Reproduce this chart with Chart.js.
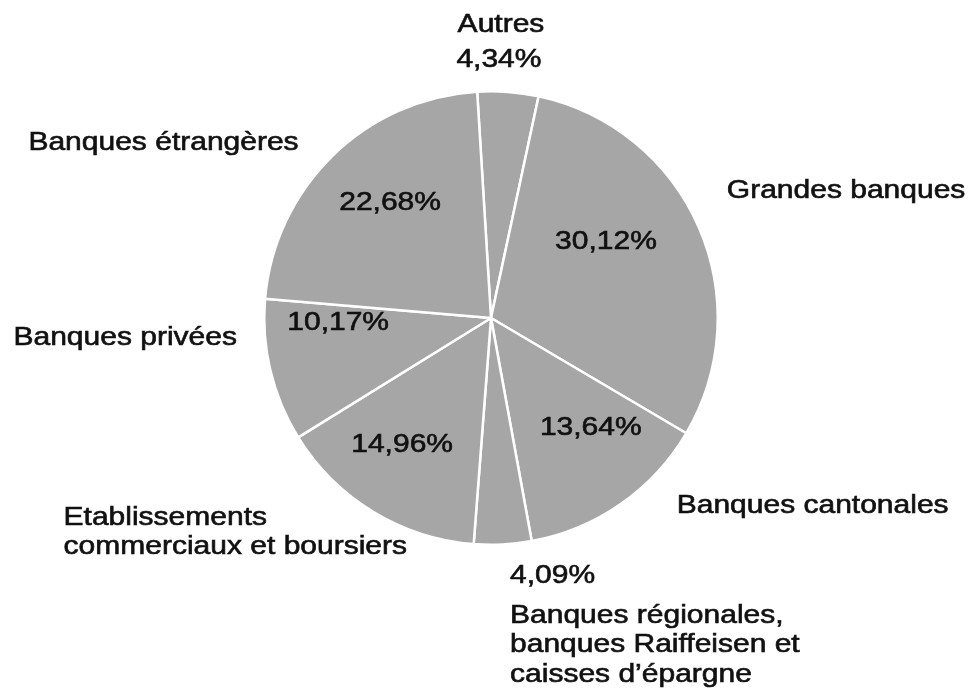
<!DOCTYPE html>
<html>
<head>
<meta charset="utf-8">
<script src="https://cdn.jsdelivr.net/npm/chart.js@4/dist/chart.umd.min.js"></script>
<style>
  html, body { margin: 0; padding: 0; background: #fff; }
  #wrap { width: 974px; height: 698px; }
</style>
</head>
<body>
<div id="wrap"><canvas id="pie"></canvas></div>
<script>
// data
const categories = [
    'Autres',
    'Grandes banques',
    'Banques cantonales',
    'Banques régionales, banques Raiffeisen et caisses d’épargne',
    'Etablissements commerciaux et boursiers',
    'Banques privées',
    'Banques étrangères'
];
const shares = [4.34, 30.12, 13.64, 4.09, 14.96, 10.17, 22.68];
const shareLabels = ['4,34%', '30,12%', '13,64%', '4,09%', '14,96%', '10,17%', '22,68%'];
const nameLines = [
    ['Autres'],
    ['Grandes banques'],
    ['Banques cantonales'],
    ['Banques régionales,', 'banques Raiffeisen et', 'caisses d’épargne'],
    ['Etablissements', 'commerciaux et boursiers'],
    ['Banques privées'],
    ['Banques étrangères']
];

// where the texts sit, in pie radii from the centre (first baseline for names)
const nameLayout = [
    { x: 0.044, y: -1.26, align: 'center' },
    { x: 1.04, y: -0.529, align: 'left' },
    { x: 0.819, y: 0.859, align: 'left' },
    { x: 0.084, y: 1.344, align: 'left' },
    { x: -1.885, y: 0.912, align: 'left' },
    { x: -2.106, y: 0.119, align: 'left' },
    { x: -2.04, y: -0.74, align: 'left' }
];
const pctLayout = [
    { x: 0.035, y: -1.106, align: 'center', baseline: 'alphabetic' },
    { x: 0.507, y: -0.335, align: 'center', baseline: 'middle' },
    { x: 0.44, y: 0.485, align: 'center', baseline: 'middle' },
    { x: 0.084, y: 1.167, align: 'left', baseline: 'alphabetic' },
    { x: -0.392, y: 0.559, align: 'center', baseline: 'middle' },
    { x: -0.674, y: 0.022, align: 'center', baseline: 'middle' },
    { x: -0.445, y: -0.507, align: 'center', baseline: 'middle' }
];

const FONT = '25px "Liberation Sans", Arial, sans-serif';
const STRETCH = 1.2;   // the original lettering is drawn wide
const LINE_H = 29.5;

function wideText(ctx, txt, x, y) {
    ctx.save();
    ctx.translate(x, y);
    ctx.scale(STRETCH, 1);
    ctx.fillText(txt, 0, 0);
    ctx.strokeText(txt, 0, 0);
    ctx.restore();
}

const labelPlugin = {
    id: 'pieLabels',
    afterDatasetsDraw(chart) {
        const arc = chart.getDatasetMeta(0).data[0];
        if (!arc) return;
        const cx = arc.x, cy = arc.y, R = arc.outerRadius;
        const ctx = chart.ctx;
        ctx.save();
        ctx.font = FONT;
        ctx.fillStyle = '#111';
        ctx.strokeStyle = '#111';
        ctx.lineWidth = 0.6;

        nameLines.forEach((lines, i) => {
            const l = nameLayout[i];
            ctx.textAlign = l.align;
            ctx.textBaseline = 'alphabetic';
            lines.forEach((txt, k) => {
                wideText(ctx, txt, cx + l.x * R, cy + l.y * R + k * LINE_H);
            });
        });

        shareLabels.forEach((txt, i) => {
            const p = pctLayout[i];
            ctx.textAlign = p.align;
            ctx.textBaseline = p.baseline;
            wideText(ctx, txt, cx + p.x * R, cy + p.y * R);
        });
        ctx.restore();
    }
};

new Chart(document.getElementById('pie'), {
    type: 'pie',
    data: {
        labels: categories,
        datasets: [{
            data: shares,
            backgroundColor: '#a6a6a6',
            borderColor: '#ffffff',
            borderWidth: 2.5
        }]
    },
    options: {
        responsive: true,
        maintainAspectRatio: false,
        animation: false,
        rotation: -3.5,
        layout: { padding: { top: 90, bottom: 152, left: 8, right: 0 } },
        plugins: {
            legend: { display: false },
            tooltip: { enabled: false }
        }
    },
    plugins: [labelPlugin]
});
</script>
</body>
</html>
